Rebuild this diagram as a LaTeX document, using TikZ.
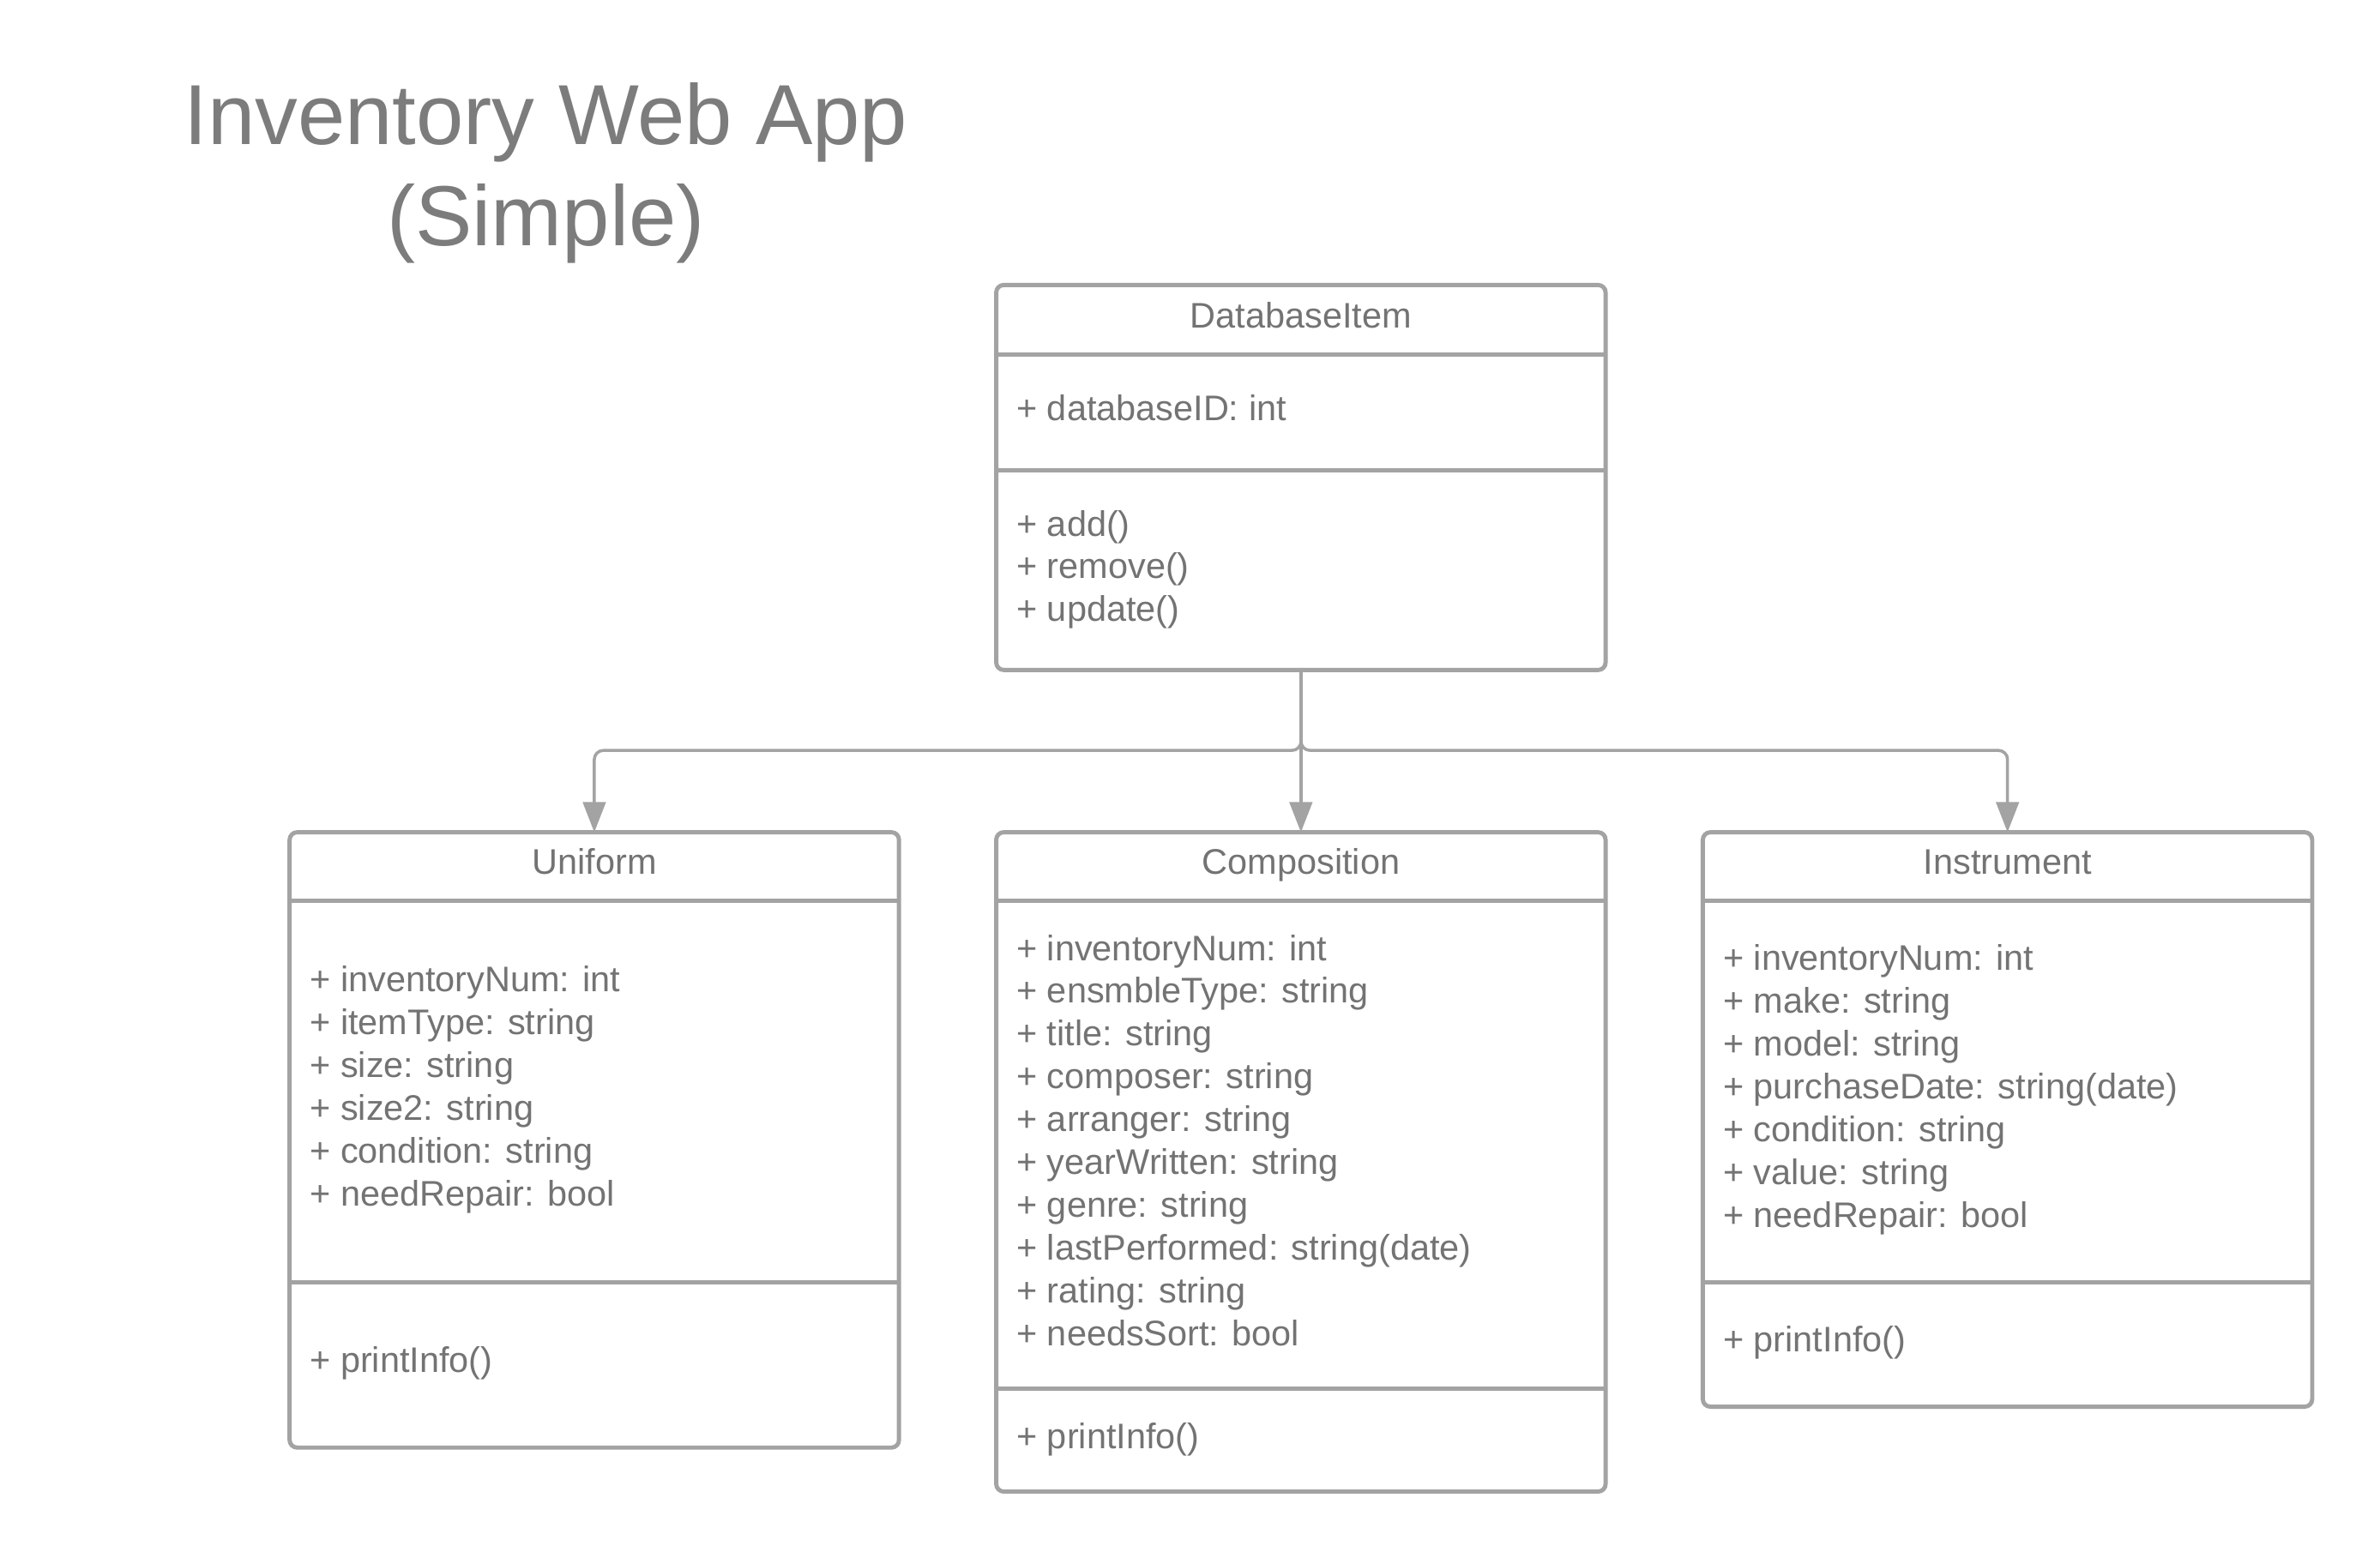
\documentclass[tikz,border=0pt]{standalone}
\usepackage{fontspec}
\setmainfont{Liberation Sans}
\usetikzlibrary{arrows.meta}
\definecolor{txtgray}{HTML}{737373}
\definecolor{ttlgray}{HTML}{7C7C7C}
\definecolor{linegray}{HTML}{A3A3A3}

\begin{document}
\begin{tikzpicture}[
  x=0.01768cm, y=-0.01768cm,
  cls/.style={draw=linegray, line width=1.4pt, rounded corners=2.5pt, anchor=north west,
              minimum width=7.107cm, inner sep=0pt, outer sep=0pt},
  div/.style={draw=linegray, line width=1.4pt},
  cname/.style={font=\fontsize{11.8}{14.2}\selectfont, text=txtgray, anchor=base, inner sep=0pt},
  mem/.style={font=\fontsize{11.8}{14.2}\selectfont, text=txtgray, anchor=base west, align=left, inner sep=0pt},
  inh/.style={draw=linegray, line width=1pt, rounded corners=3pt, -{Triangle[length=10pt, width=7.5pt]}},
  ttl/.style={font=\fontsize{28.3}{33.7}\selectfont, text=ttlgray, align=center, anchor=base, inner sep=0pt}
]
\useasboundingbox (0,0) rectangle (1569.6,1027.7);

% --- title (base = last line) ---
\node[ttl] (title) at (360,162) {Inventory Web App\\(Simple)};

% --- class boxes ---
\node[cls, minimum height=4.491cm] (db)   at (657,188) {};
\node[cls, minimum height=7.178cm] (uni)  at (191,549) {};
\node[cls, minimum height=7.691cm] (comp) at (657,549) {};
\node[cls, minimum height=6.701cm] (inst) at (1123,549) {};

% --- compartment lines ---
\draw[div] (db.west |- 0,234) -- (db.east |- 0,234);
\draw[div] (db.west |- 0,310) -- (db.east |- 0,310);
\draw[div] (uni.west |- 0,594) -- (uni.east |- 0,594);
\draw[div] (uni.west |- 0,846) -- (uni.east |- 0,846);
\draw[div] (comp.west |- 0,594) -- (comp.east |- 0,594);
\draw[div] (comp.west |- 0,916) -- (comp.east |- 0,916);
\draw[div] (inst.west |- 0,594) -- (inst.east |- 0,594);
\draw[div] (inst.west |- 0,846) -- (inst.east |- 0,846);

% --- DatabaseItem ---
\node[cname] (dbName) at (858,216.5) {DatabaseItem};
\node[mem] (dbAttr) at (670,277.5) {+ databaseID: int};
\node[mem] (dbOps)  at (670,410) {+ add()\\+ remove()\\+ update()};

% --- Uniform ---
\node[cname] (uniName) at (392,576.5) {Uniform};
\node[mem] (uniAttr) at (204,795.5) {+ inventoryNum: int\\+ itemType: string\\+ size: string\\+ size2: string\\+ condition: string\\+ needRepair: bool};
\node[mem] (uniOps)  at (204,905.5) {+ printInfo()};

% --- Composition ---
\node[cname] (compName) at (858,576.5) {Composition};
\node[mem] (compAttr) at (670,887.5) {+ inventoryNum: int\\+ ensmbleType: string\\+ title: string\\+ composer: string\\+ arranger: string\\+ yearWritten: string\\+ genre: string\\+ lastPerformed: string(date)\\+ rating: string\\+ needsSort: bool};
\node[mem] (compOps)  at (670,955.5) {+ printInfo()};

% --- Instrument ---
\node[cname] (instName) at (1324,576.5) {Instrument};
\node[mem] (instAttr) at (1136,809.5) {+ inventoryNum: int\\+ make: string\\+ model: string\\+ purchaseDate: string(date)\\+ condition: string\\+ value: string\\+ needRepair: bool};
\node[mem] (instOps)  at (1136,891.5) {+ printInfo()};

% --- inheritance arrows ---
\coordinate (split) at (858,495);
\draw[inh] (db.south) -- (comp.north);
\draw[inh] (db.south) -- (split) -| (uni.north);
\draw[inh] (db.south) -- (split) -| (inst.north);

\end{tikzpicture}
\end{document}
